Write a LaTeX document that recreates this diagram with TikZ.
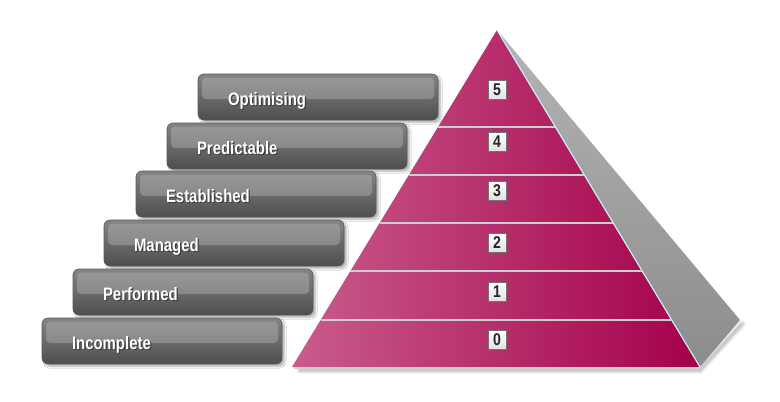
\documentclass[tikz,border=0pt]{standalone}
\usepackage{fontspec}
\newfontfamily\barfont[FakeStretch=0.83]{Liberation Sans}
\usetikzlibrary{calc,shadows.blur}

\definecolor{barTop}{HTML}{858585}
\definecolor{barBot}{HTML}{4E4E4E}
\definecolor{panTop}{HTML}{999999}
\definecolor{panBot}{HTML}{7A7A7A}
\definecolor{redL}{HTML}{C95C8C}
\definecolor{redR}{HTML}{A4004A}
\definecolor{sideTop}{HTML}{B4B4B4}
\definecolor{sideBot}{HTML}{8C8C8C}
\definecolor{sepLine}{HTML}{C9D0D0}

% white label with a dark drop shadow, vertically set on the bar's middle
\newcommand\shtext[1]{\raisebox{-8.5pt}[0pt][0pt]{\makebox[0pt][l]{\hspace{1.2pt}\raisebox{-1.2pt}{\color{black!75}#1}}#1}}

\tikzset{
  levelbar/.style={
    rounded corners=6pt, minimum height=46pt, text width=180pt,
    inner xsep=30pt, inner ysep=0pt, align=left,
    draw=black!65, line width=0.6pt,
    top color=barTop, bottom color=barBot,
    blur shadow={shadow xshift=2.5pt, shadow yshift=-2.5pt, shadow opacity=30, shadow blur steps=6},
    font=\barfont\bfseries\fontsize{18}{20}\selectfont, text=white,
    path picture={
      \shade[top color=panTop, bottom color=panBot, rounded corners=4pt]
        ([shift={(4pt,-3.5pt)}]path picture bounding box.north west) rectangle
        ([shift={(-4pt,-25pt)}]path picture bounding box.north east);
    }
  },
  numbox/.style={
    draw=black!55, line width=0.7pt, top color=white, bottom color=black!12,
    minimum width=18pt, minimum height=19pt, inner sep=0pt,
    font=\barfont\bfseries\fontsize{17}{17}\selectfont, text=black!85
  },
  seprule/.style={draw=sepLine, line width=2.2pt}
}

\begin{document}
\begin{tikzpicture}[x=1pt,y=-1pt]
  \fill[white] (0,0) rectangle (780,402);
  \useasboundingbox (0,0) rectangle (780,402);

  % stacked level bars
  \node[levelbar] (opt)  at (318,97)  {\shtext{Optimising}};
  \node[levelbar] (pred) at (287,146) {\shtext{Predictable}};
  \node[levelbar] (est)  at (256,194) {\shtext{Established}};
  \node[levelbar] (man)  at (224,243) {\shtext{Managed}};
  \node[levelbar] (perf) at (193,292) {\shtext{Performed}};
  \node[levelbar] (inc)  at (162,341) {\shtext{Incomplete}};

  % pyramid corners
  \coordinate (A)  at (497,30);
  \coordinate (BL) at (292,367);
  \coordinate (BR) at (700,367);
  \coordinate (S)  at (740,320);

  % soft shadows under the pyramid
  \foreach \w/\o in {8/0.05,5/0.07,3/0.09}{
    \draw[black, opacity=\o, line width=\w pt, line cap=round]
      ($(BL)+(8,3)$) -- ($(BR)+(0,3)$) -- ($(S)+(2,4)$);
  }

  % grey side face
  \shade[top color=sideTop, bottom color=sideBot] (A) -- (S) -- (BR) -- cycle;

  % front face
  \shade[left color=redL, right color=redR] (A) -- (BR) -- (BL) -- cycle;

  % light edge between the faces and along the base
  \draw[white!80!cyan, line width=1.2pt] (A) -- (BR);
  \draw[sepLine, line width=1.2pt] ($(BL)+(2,1)$) -- ($(BR)+(0,1)$);

  % band separators
  \foreach \yy in {127,175,223,271,320}{
    \draw[seprule] ($(A)!{(\yy-30)/337}!(BL)$) -- ($(A)!{(\yy-30)/337}!(BR)$);
  }

  % level numbers
  \node[numbox] (n5) at (497,90)  {5};
  \node[numbox] (n4) at (497,142) {4};
  \node[numbox] (n3) at (497,191) {3};
  \node[numbox] (n2) at (497,243) {2};
  \node[numbox] (n1) at (497,292) {1};
  \node[numbox] (n0) at (497,340) {0};
\end{tikzpicture}
\end{document}
